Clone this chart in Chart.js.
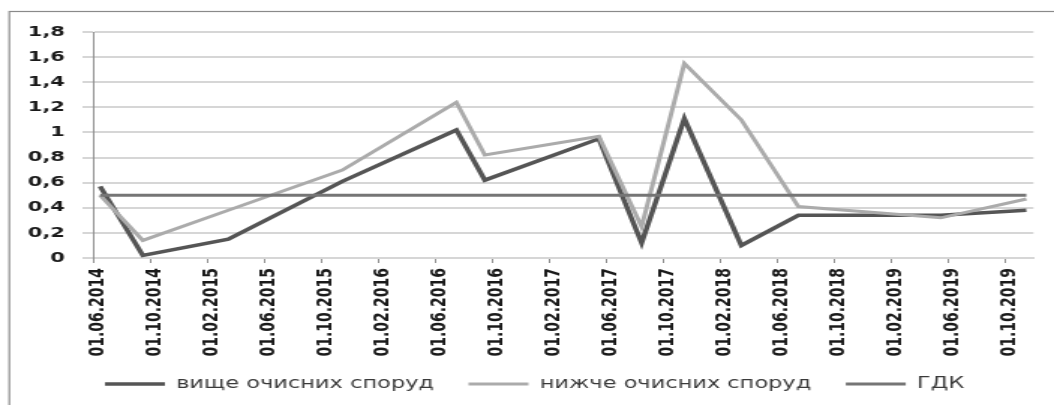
<!DOCTYPE html>
<html>
<head>
<meta charset="utf-8">
<script src="https://cdn.jsdelivr.net/npm/chart.js@4.4.1/dist/chart.umd.min.js"></script>
<style>
  html, body { margin: 0; padding: 0; background: #fff; overflow: hidden; }
  /* the chart is laid out narrow and widened horizontally */
  #wrap { width: 703px; height: 405px; transform: scaleX(1.4993); transform-origin: 0 0; }
  canvas { display: block; }
</style>
</head>
<body>
<div id="wrap"><canvas id="c" width="703" height="405"></canvas></div>
<script>
// sampling months (year-month) and measured concentrations
const sampleMonths = ['2014-06', '2014-09', '2015-03', '2015-11', '2016-07', '2016-09', '2017-05',
                      '2017-08', '2017-11', '2018-03', '2018-07', '2019-05', '2019-11'];
const aboveValues = [0.57, 0.02, 0.15, 0.61, 1.02, 0.62, 0.95, 0.12, 1.11, 0.10, 0.34, 0.34, 0.38];
const belowValues = [0.50, 0.14, 0.38, 0.70, 1.24, 0.82, 0.97, 0.25, 1.55, 1.10, 0.41, 0.32, 0.47];
const limitValues = [0.5, 0.5, 0.5, 0.5, 0.5, 0.5, 0.5, 0.5, 0.5, 0.5, 0.5, 0.5, 0.5];

const seriesNames = ['вище очисних споруд', 'нижче очисних споруд', 'ГДК'];

// axis labels, one every four months starting at the first axis month
const tickLabels = ['01.06.2014', '01.10.2014', '01.02.2015', '01.06.2015', '01.10.2015', '01.02.2016',
                    '01.06.2016', '01.10.2016', '01.02.2017', '01.06.2017', '01.10.2017', '01.02.2018',
                    '01.06.2018', '01.10.2018', '01.02.2019', '01.06.2019', '01.10.2019'];
const yTicks = ['0', '0,2', '0,4', '0,6', '0,8', '1', '1,2', '1,4', '1,6', '1,8'];

const AXIS_START = { year: 2014, month: 6 };
const AXIS_MONTHS = 66;           // Jun 2014 .. Nov 2019, one slot per month
const TICK_STEP = 4;

function monthSlot(ym) {
  const [y, m] = ym.split('-').map(Number);
  return (y - AXIS_START.year) * 12 + (m - AXIS_START.month) + 0.5; // centre of the month slot
}
function toPoints(values) {
  return sampleMonths.map((ym, i) => ({ x: monthSlot(ym), y: values[i] }));
}

Chart.defaults.font.family = "'DejaVu Sans', Verdana, sans-serif";

const LEGEND_PAD = 23;
const LEGEND_X = 70;     // left end of the first legend line
const LEGEND_Y = 384;    // legend text centre line

// outer frame of the chart
const frame = {
  id: 'frame',
  beforeDraw(chart) {
    const ctx = chart.ctx;
    ctx.save();
    ctx.strokeStyle = '#8a8a8a';
    ctx.lineWidth = 1.2;
    ctx.strokeRect(6.2, 11.5, chart.width + 20, chart.height + 20);
    ctx.restore();
  }
};

// keep the legend on one row under the axis labels
const legendPlacer = {
  id: 'legendPlacer',
  afterLayout(chart) {
    const lg = chart.legend;
    lg.top = LEGEND_Y - LEGEND_PAD - 7.5;
    lg.bottom = chart.height;
    lg.height = lg.bottom - lg.top;
    lg.left = LEGEND_X - LEGEND_PAD;
    lg.right = chart.width + 400;
    lg.width = lg.right - lg.left;
  }
};

new Chart(document.getElementById('c'), {
  type: 'line',
  data: {
    datasets: [
      { label: seriesNames[0], data: toPoints(aboveValues), borderColor: '#555555', backgroundColor: '#555555',
        borderWidth: 3.5, order: 2 },
      { label: seriesNames[1], data: toPoints(belowValues), borderColor: '#ababab', backgroundColor: '#ababab',
        borderWidth: 3, order: 1 },
      { label: seriesNames[2], data: toPoints(limitValues), borderColor: '#757575', backgroundColor: '#757575',
        borderWidth: 3, order: 0 }
    ]
  },
  options: {
    responsive: false,
    animation: false,
    devicePixelRatio: 1,
    layout: { padding: { left: 0, right: 13.7, top: 32, bottom: 2 } },
    elements: { point: { radius: 0, hoverRadius: 0 }, line: { tension: 0 } },
    plugins: {
      tooltip: { enabled: false },
      legend: {
        position: 'bottom',
        align: 'start',
        maxHeight: 35,
        labels: {
          usePointStyle: true,
          pointStyle: 'line',
          pointStyleWidth: 40,
          boxWidth: 40,
          boxHeight: 3,
          padding: LEGEND_PAD,
          color: '#3a3a3a',
          font: { size: 15 },
          sort: (a, b) => a.datasetIndex - b.datasetIndex
        }
      }
    },
    scales: {
      x: {
        type: 'linear',
        min: 0,
        max: AXIS_MONTHS,
        afterBuildTicks(scale) {
          scale.ticks = tickLabels.map((_, i) => ({ value: i * TICK_STEP }));
        },
        afterFit(scale) { scale.height = 110; },
        ticks: {
          autoSkip: false,
          minRotation: 90,
          maxRotation: 90,
          padding: 5,
          labelOffset: 3.3,
          color: '#1a1a1a',
          font: { size: 14, weight: 'bold' },
          callback: (v) => tickLabels[Math.round(v / TICK_STEP)]
        },
        grid: { drawOnChartArea: false, drawTicks: true, tickLength: 5, color: '#8f8f8f', lineWidth: 1 },
        border: { display: true, color: '#d6d6d6', width: 2 }
      },
      y: {
        min: 0,
        max: 1.8,
        afterFit(scale) { scale.width = 62; },
        ticks: {
          autoSkip: false,
          stepSize: 0.2,
          padding: 11.7,
          color: '#1a1a1a',
          font: { size: 14, weight: 'bold' },
          callback: (v) => yTicks[Math.round(v / 0.2)]
        },
        grid: { color: '#d6d6d6', lineWidth: 2, tickLength: 7 },
        border: { display: true, color: '#8f8f8f', width: 1 }
      }
    }
  },
  plugins: [frame, legendPlacer]
});
</script>
</body>
</html>
